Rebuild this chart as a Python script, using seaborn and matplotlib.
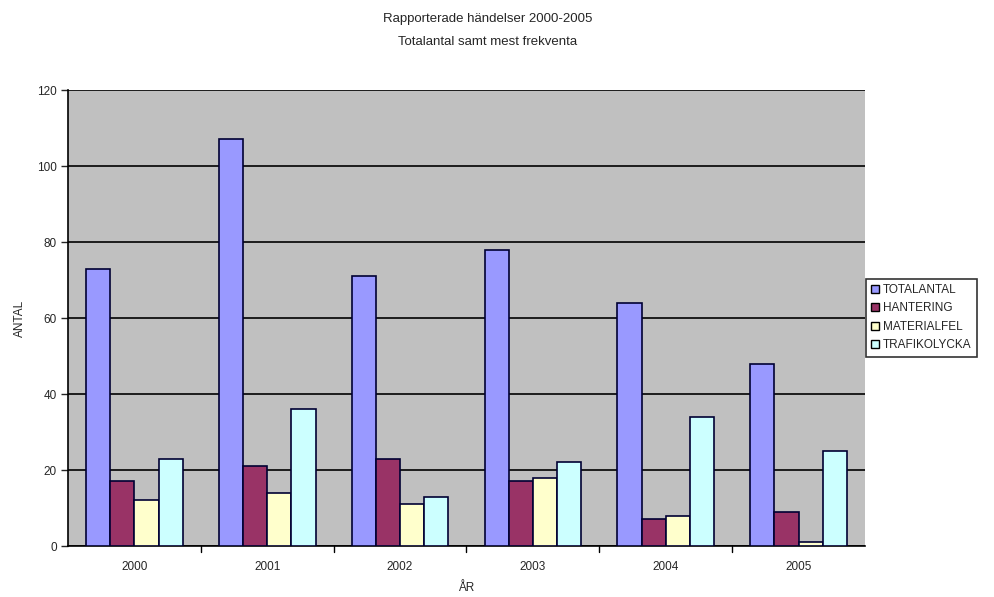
import matplotlib
matplotlib.use("Agg")
import matplotlib.pyplot as plt
from matplotlib.patches import Patch
import seaborn as sns
import pandas as pd

years = ["2000", "2001", "2002", "2003", "2004", "2005"]
series = ["TOTALANTAL", "HANTERING", "MATERIALFEL", "TRAFIKOLYCKA"]
totalantal = [73, 107, 71, 78, 64, 48]
hantering = [17, 21, 23, 17, 7, 9]
materialfel = [12, 14, 11, 18, 8, 1]
trafikolycka = [23, 36, 13, 22, 34, 25]
colors = ["#9999FF", "#993366", "#FFFFCC", "#CCFFFF"]

rows = []
for name, vals in zip(series, [totalantal, hantering, materialfel, trafikolycka]):
    for y, v in zip(years, vals):
        rows.append({"ÅR": y, "Serie": name, "ANTAL": v})
df = pd.DataFrame(rows)

sns.set_theme(style="white")
plt.rcParams["font.family"] = ["Liberation Sans", "DejaVu Sans"]

fig = plt.figure(figsize=(9.95, 5.97), dpi=100)
ax = fig.add_axes([0.0683, 0.0854, 0.8010, 0.7638])
ax.set_facecolor("#C0C0C0")

sns.barplot(data=df, x="ÅR", y="ANTAL", hue="Serie", hue_order=series,
            order=years, palette=colors, width=4 / 5.5, gap=0,
            edgecolor="#000033", linewidth=1.2, saturation=1,
            legend=False, ax=ax, zorder=3)

ax.set_ylim(0, 120)
ax.set_xlim(-0.5, 5.5)
ax.set_yticks(range(0, 121, 20))
ax.yaxis.grid(True, color="black", linewidth=1.2, zorder=1)
ax.set_axisbelow(True)
for bar in ax.patches:
    bar.set_zorder(3)

ax.set_xticks(range(6))
ax.set_xticklabels(years)
ax.tick_params(axis="x", length=0, labelsize=8.5, pad=11)
ax.tick_params(axis="y", length=5, width=1, direction="out", left=True, labelsize=8.5, pad=3)
for b in [0.5, 1.5, 2.5, 3.5, 4.5]:
    ax.plot([b, b], [0, -1.6], color="black", lw=1, clip_on=False, transform=ax.transData)

for side in ["top", "right"]:
    ax.spines[side].set_visible(False)
for side in ["left", "bottom"]:
    ax.spines[side].set_color("black")
    ax.spines[side].set_linewidth(1.2)

ax.set_xlabel("ÅR", fontsize=8.5, labelpad=6)
ax.set_ylabel("ANTAL", fontsize=8.5, labelpad=8)

fig.text(0.49, 0.968, "Rapporterade händelser 2000-2005", ha="center", va="center", fontsize=9.5)
fig.text(0.49, 0.930, "Totalantal samt mest frekventa", ha="center", va="center", fontsize=9.5)

handles = [Patch(facecolor=c, edgecolor="black", linewidth=1) for c in colors]
leg = fig.legend(handles, series, loc="center left", bbox_to_anchor=(0.870, 0.468),
                 fontsize=8.5, frameon=True, fancybox=False, edgecolor="black",
                 handlelength=0.7, handleheight=0.7, handletextpad=0.3,
                 labelspacing=0.55, borderpad=0.45, borderaxespad=0)
leg.get_frame().set_linewidth(1.2)

fig.savefig("out.png", dpi=100, facecolor="white")
